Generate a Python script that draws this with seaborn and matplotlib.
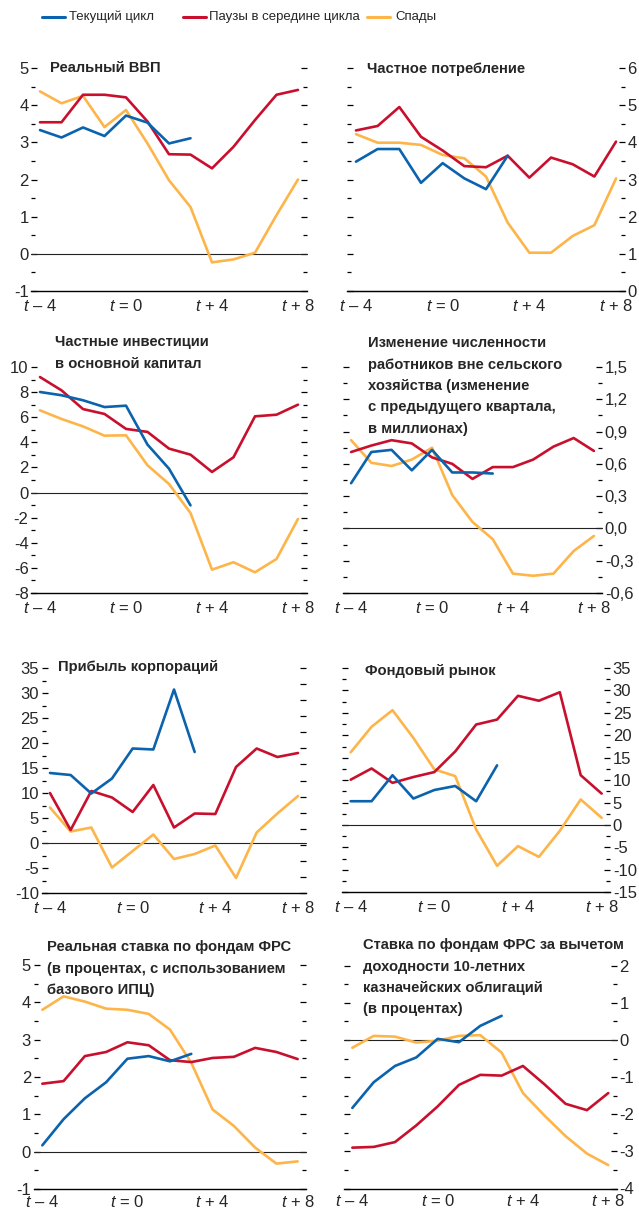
import numpy as np
import pandas as pd
import matplotlib
matplotlib.use("Agg")
import matplotlib.pyplot as plt
from matplotlib import font_manager
from matplotlib.lines import Line2D
import seaborn as sns

# -----------------------------
# Data
# -----------------------------
quarters = list(range(-4, 9))
current_quarters = quarters[:8]

series_names = ["Текущий цикл", "Паузы в середине цикла", "Спады"]
series_colors = ["#0B63AE", "#C8102E", "#FDB54A"]

gdp_current = [3.33, 3.13, 3.40, 3.17, 3.72, 3.53, 2.97, 3.11]
gdp_pause = [3.54, 3.54, 4.28, 4.28, 4.21, 3.56, 2.68, 2.67, 2.30, 2.88, 3.60, 4.28, 4.41]
gdp_recess = [4.37, 4.05, 4.25, 3.41, 3.87, 2.97, 1.98, 1.26, -0.23, -0.15, 0.03, 1.04, 2.00]

cons_current = [3.48, 3.82, 3.82, 2.91, 3.44, 3.03, 2.74, 3.64]
cons_pause = [4.32, 4.44, 4.95, 4.15, 3.78, 3.36, 3.33, 3.64, 3.05, 3.59, 3.41, 3.08, 4.02]
cons_recess = [4.22, 3.99, 3.99, 3.93, 3.66, 3.57, 3.08, 1.84, 1.03, 1.03, 1.48, 1.77, 3.03]

inv_current = [8.01, 7.75, 7.35, 6.81, 6.92, 3.82, 1.90, -1.02]
inv_pause = [9.20, 8.14, 6.65, 6.26, 5.07, 4.83, 3.50, 3.02, 1.64, 2.81, 6.07, 6.20, 7.00]
inv_recess = [6.55, 5.86, 5.27, 4.53, 4.56, 2.17, 0.68, -1.63, -6.14, -5.55, -6.35, -5.29, -2.10]

emp_current = [0.42, 0.71, 0.73, 0.54, 0.73, 0.52, 0.52, 0.51]
emp_pause = [0.71, 0.77, 0.82, 0.79, 0.66, 0.60, 0.46, 0.57, 0.57, 0.64, 0.76, 0.84, 0.72]
emp_recess = [0.82, 0.61, 0.58, 0.64, 0.75, 0.31, 0.06, -0.10, -0.42, -0.44, -0.42, -0.21, -0.07]

profit_current = [14.0, 13.6, 9.9, 12.9, 18.9, 18.7, 30.7, 18.2]
profit_pause = [10.0, 2.6, 10.4, 9.1, 6.2, 11.6, 3.1, 5.9, 5.8, 15.2, 18.9, 17.2, 18.0]
profit_recess = [7.1, 2.3, 3.1, -4.9, -1.6, 1.7, -3.2, -2.2, -0.5, -7.0, 2.1, 5.9, 9.4]

stock_current = [5.3, 5.3, 11.1, 5.9, 7.8, 8.7, 5.3, 13.3]
stock_pause = [10.1, 12.6, 9.4, 10.7, 11.8, 16.4, 22.4, 23.5, 28.8, 27.7, 29.6, 11.1, 7.0]
stock_recess = [16.2, 21.9, 25.6, 19.4, 12.4, 10.9, -1.0, -9.1, -4.7, -7.1, -1.3, 5.7, 1.6]

rate_current = [0.17, 0.87, 1.43, 1.86, 2.49, 2.56, 2.42, 2.62]
rate_pause = [1.82, 1.89, 2.56, 2.67, 2.93, 2.85, 2.45, 2.40, 2.51, 2.54, 2.78, 2.67, 2.48]
rate_recess = [3.80, 4.16, 4.02, 3.83, 3.80, 3.69, 3.27, 2.38, 1.13, 0.69, 0.11, -0.32, -0.26]

spread_current = [-1.83, -1.14, -0.70, -0.47, 0.03, -0.06, 0.38, 0.65]
spread_pause = [-2.90, -2.88, -2.75, -2.30, -1.79, -1.21, -0.94, -0.96, -0.70, -1.19, -1.72, -1.89, -1.43]
spread_recess = [-0.21, 0.11, 0.09, -0.07, -0.02, 0.11, 0.13, -0.34, -1.43, -2.03, -2.59, -3.06, -3.37]

xtick_show = {-4: "$t$ – 4", 0: "$t$ = 0", 4: "$t$ + 4", 8: "$t$ + 8"}

# -----------------------------
# Fonts / style
# -----------------------------
available = {f.name for f in font_manager.fontManager.ttflist}
FONT = "Liberation Sans Narrow" if "Liberation Sans Narrow" in available else "Liberation Sans"

sns.set_style("white")
plt.rcParams["font.family"] = [FONT, "DejaVu Sans"]
plt.rcParams["mathtext.fontset"] = "custom"
plt.rcParams["mathtext.it"] = FONT + ":italic"
plt.rcParams["mathtext.rm"] = FONT

TICK_FS = 12
TITLE_FS = 10.6

W, H = 639, 1210
fig = plt.figure(figsize=(W / 100, H / 100), dpi=100)
palette = dict(zip(series_names, series_colors))
draw_order = [series_names[2], series_names[1], series_names[0]]


def fx(x):
    return x / W


def fy(y):
    return 1 - y / H


def panel(box, cur, pause, rec, ylim, major, minor, labels, left_side,
          title, title_x, title_y, right_ticks=None, xpad=2):
    l, r, t, b = box
    ax = fig.add_axes([fx(l), fy(b), (r - l) / W, (b - t) / H])
    df = pd.concat([
        pd.DataFrame({"quarter": current_quarters, "value": cur, "series": series_names[0]}),
        pd.DataFrame({"quarter": quarters, "value": pause, "series": series_names[1]}),
        pd.DataFrame({"quarter": quarters, "value": rec, "series": series_names[2]}),
    ])
    ax.axhline(0, color="#222222", lw=0.8, zorder=1)
    sns.lineplot(data=df, x="quarter", y="value", hue="series", hue_order=draw_order,
                 palette=palette, linewidth=1.9, legend=False, estimator=None, ax=ax)
    ax.set_xlim(-4.4, 8.4)
    ax.set_ylim(*ylim)
    ax.set_xlabel("")
    ax.set_ylabel("")
    ax.set_xticks(quarters)
    ax.set_xticklabels([xtick_show.get(q, "") for q in quarters], fontsize=TICK_FS)
    ax.set_yticks(major)
    ax.set_yticklabels(labels, fontsize=TICK_FS)
    ax.set_yticks(minor, minor=True)
    for s in ["left", "right", "top"]:
        ax.spines[s].set_visible(False)
    ax.spines["bottom"].set_color("black")
    ax.spines["bottom"].set_linewidth(1.0)
    ax.tick_params(axis="x", which="major", direction="inout", length=5.5, width=0.9,
                   color="black", pad=xpad)
    ax.tick_params(axis="y", which="both", direction="in", width=0.9, color="black",
                   left=True, right=right_ticks is None,
                   labelleft=left_side, labelright=not left_side, pad=2)
    ax.tick_params(axis="y", which="major", length=4)
    ax.tick_params(axis="y", which="minor", length=3)
    for line in ax.lines:
        line.set_clip_on(False)
    if right_ticks is not None:
        tw = ax.twinx()
        tw.set_ylim(*ylim)
        tw.set_yticks(right_ticks)
        tw.tick_params(axis="y", direction="in", length=4, width=0.9, color="black",
                       labelright=False)
        for s in tw.spines.values():
            s.set_visible(False)
    for i, txt in enumerate(title):
        fig.text(fx(title_x), fy(title_y + i * 21.5), txt, fontsize=TITLE_FS,
                 fontweight="bold", ha="left", va="center")
    return ax


def ticks(lo, hi, step):
    return np.round(np.arange(lo, hi + step / 2, step), 4)


def fmt(vals, dec=0):
    return [(f"{v:.{dec}f}").replace(".", ",") for v in vals]


m = ticks(-1, 5, 1)
panel((31.4, 306.6, 68, 291), gdp_current, gdp_pause, gdp_recess, (-1, 5), m,
      ticks(-0.5, 4.5, 1), fmt(m), True, ["Реальный ВВП"], 50, 68)

m = ticks(0, 6, 1)
panel((347.3, 624.7, 68, 291), cons_current, cons_pause, cons_recess, (0, 6), m,
      ticks(0.5, 5.5, 1), fmt(m), False, ["Частное потребление"], 367, 69)

m = ticks(-8, 10, 2)
panel((31.4, 306.6, 367, 593), inv_current, inv_pause, inv_recess, (-8, 10), m,
      ticks(-7, 9, 2), fmt(m), True,
      ["Частные инвестиции", "в основной капитал"], 55, 342)

m = ticks(-0.6, 1.5, 0.3)
panel((343, 602, 367, 593), emp_current, emp_pause, emp_recess, (-0.6, 1.5), m,
      ticks(-0.45, 1.35, 0.3), fmt(m, 1), False,
      ["Изменение численности", "работников вне сельского", "хозяйства (изменение",
       "с предыдущего квартала,", "в миллионах)"], 368, 343)

m = ticks(-10, 35, 5)
panel((41.7, 306.3, 668, 893), profit_current, profit_pause, profit_recess, (-10, 35), m,
      ticks(-7.5, 32.5, 5), fmt(m), True, ["Прибыль корпораций"], 58, 667,
      right_ticks=np.linspace(-10, 35, 15))

m = ticks(-15, 35, 5)
panel((342.3, 610, 668, 892.3), stock_current, stock_pause, stock_recess, (-15, 35), m,
      ticks(-12.5, 32.5, 5), fmt(m), False, ["Фондовый рынок"], 365, 671)

m = ticks(-1, 5, 1)
panel((33.8, 306.2, 965, 1189), rate_current, rate_pause, rate_recess, (-1, 5), m,
      ticks(-0.5, 4.5, 1), fmt(m), True,
      ["Реальная ставка по фондам ФРС", "(в процентах, с использованием",
       "базового ИПЦ)"], 47, 947, xpad=0.5)

m = ticks(-4, 2, 1)
panel((343.8, 616.8, 965.7, 1188.5), spread_current, spread_pause, spread_recess, (-4, 2), m,
      ticks(-3.5, 1.5, 1), fmt(m), False,
      ["Ставка по фондам ФРС за вычетом", "доходности 10-летних",
       "казначейских облигаций", "(в процентах)"], 363, 945, xpad=0.5)

# -----------------------------
# Legend
# -----------------------------
legend_pos = [(42, 65, 69), (183, 206, 209), (367, 390, 395)]
for name, color, (x0, x1, xt) in zip(series_names, series_colors, legend_pos):
    fig.add_artist(Line2D([fx(x0), fx(x1)], [fy(17), fy(17)], color=color, lw=2.2,
                          transform=fig.transFigure))
    fig.text(fx(xt), fy(17), name, fontsize=9.5, ha="left", va="center")

fig.savefig("out.png", dpi=100)
